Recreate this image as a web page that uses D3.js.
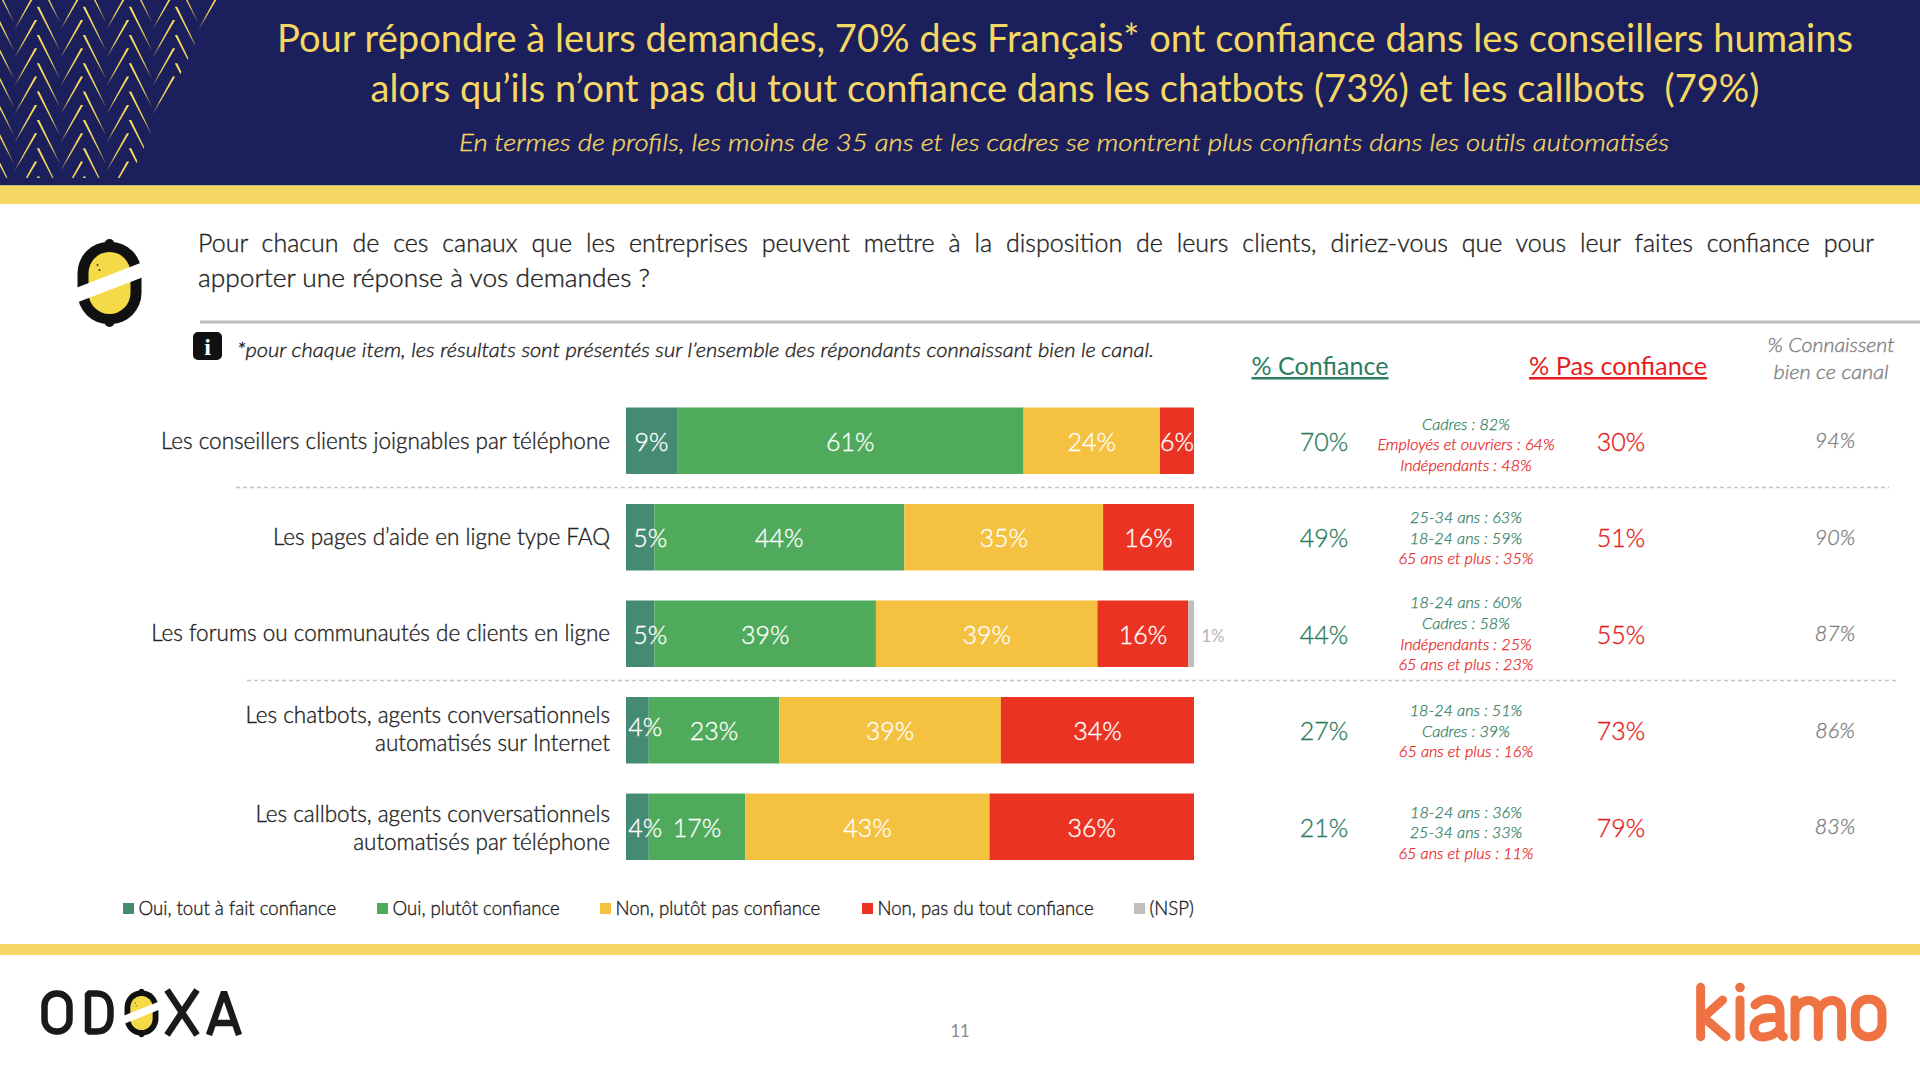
<!DOCTYPE html>
<html lang="fr">
<head>
<meta charset="utf-8">
<title>Confiance dans les canaux</title>
<script src="https://cdn.jsdelivr.net/npm/d3@7/dist/d3.min.js"></script>
<style>
  html, body { margin: 0; padding: 0; background: #fff; overflow: hidden; }
  svg { display: block; }
  text { font-family: Lato, "Open Sans", sans-serif; }
</style>
</head>
<body>
<svg id="slide" width="1920" height="1076"></svg>
<script>
// Chart values
const categories = [
  ["Les conseillers clients joignables par téléphone"],
  ["Les pages d’aide en ligne type FAQ"],
  ["Les forums ou communautés de clients en ligne"],
  ["Les chatbots, agents conversationnels", "automatisés sur Internet"],
  ["Les callbots, agents conversationnels", "automatisés par téléphone"]
];
const seriesNames = ["Oui, tout à fait confiance", "Oui, plutôt confiance", "Non, plutôt pas confiance", "Non, pas du tout confiance", "(NSP)"];
const seriesColors = ["#458a73", "#4fab5b", "#f4c140", "#eb3323", "#bfbfbf"];
const toutAFait = [9, 5, 5, 4, 4];
const plutot = [61, 44, 39, 23, 17];
const plutotPas = [24, 35, 39, 39, 43];
const pasDuTout = [6, 16, 16, 34, 36];
const nsp = [0, 0, 1, 0, 0];
const confiance = [70, 49, 44, 27, 21];
const pasConfiance = [30, 51, 55, 73, 79];
const connaissent = [94, 90, 87, 86, 83];
// profile notes, g = green (above average), r = red (below average)
const notes = [
  [["g", "Cadres : 82%"], ["r", "Employés et ouvriers : 64%"], ["r", "Indépendants : 48%"]],
  [["g", "25-34 ans : 63%"], ["g", "18-24 ans : 59%"], ["r", "65 ans et plus : 35%"]],
  [["g", "18-24 ans : 60%"], ["g", "Cadres : 58%"], ["r", "Indépendants : 25%"], ["r", "65 ans et plus : 23%"]],
  [["g", "18-24 ans : 51%"], ["g", "Cadres : 39%"], ["r", "65 ans et plus : 16%"]],
  [["g", "18-24 ans : 36%"], ["g", "25-34 ans : 33%"], ["r", "65 ans et plus : 11%"]]
];

const navy = "#1b1f5b", gold = "#f5d864", green = "#2e7d62", red = "#e81c1c", grey = "#7f7f7f";
const svg = d3.select("#slide");

// small helper for all the plain text on the slide
function label(parent, x, y, str, size, fill, anchor, italic, fitWidth) {
  const t = parent.append("text")
    .attr("x", x).attr("y", y)
    .attr("font-size", size)
    .attr("fill", fill)
    .attr("text-anchor", anchor || "start")
    .text(str);
  if (italic) t.attr("font-style", "italic");
  if (fitWidth) t.attr("textLength", fitWidth).attr("lengthAdjust", "spacingAndGlyphs");
  return t;
}

// Lato Light is too thin and Regular too heavy, a hairline stroke lands in between
function semi(t, amount) {
  return t.attr("font-weight", 300).attr("stroke", t.attr("fill")).attr("stroke-width", amount || 0.35);
}

/* ---- Header ---- */
svg.append("rect").attr("width", 1920).attr("height", 185.5).attr("fill", navy);
svg.append("rect").attr("y", 185.5).attr("width", 1920).attr("height", 18.5).attr("fill", gold);

// herringbone decoration: thin strokes that fade out towards the bottom
const fade = svg.append("defs").append("linearGradient").attr("id", "chevronFade")
  .attr("x1", 0).attr("x2", 0).attr("y1", 0).attr("y2", 1);
fade.append("stop").attr("offset", 0).attr("stop-color", "#fbe05f");
fade.append("stop").attr("offset", 0.65).attr("stop-color", "#eccd5b");
fade.append("stop").attr("offset", 1).attr("stop-color", "#3a3a5c");
svg.append("clipPath").attr("id", "chevronClip")
  .append("polygon").attr("points", "0,0 217,0 129,178 0,178");
const chevrons = svg.append("g").attr("clip-path", "url(#chevronClip)").attr("fill", "url(#chevronFade)");
const edgeAt = yy => 217 - 88 * yy / 178;
for (let k = -1; k < 5; k++) {
  for (let j = -1; j < 7; j++) {
    const tipX = 37 + 46 * k;
    const riseY = 20 + 28.3 * j, fallY = 6.7 + 28.3 * j;
    if (tipX - 1 < edgeAt(riseY)) {
      chevrons.append("polygon").attr("points",
        `${tipX - 2.2},${riseY} ${tipX + 0.2},${riseY} ${tipX - 21.6},${riseY + 37} ${tipX - 22.4},${riseY + 37}`);
    }
    if (tipX + 1 < edgeAt(fallY)) {
      chevrons.append("polygon").attr("points",
        `${tipX - 0.2},${fallY} ${tipX + 2.2},${fallY} ${tipX + 22.9},${fallY + 43} ${tipX + 22.1},${fallY + 43}`);
    }
  }
}

label(svg, 1065, 52, "Pour répondre à leurs demandes, 70% des Français* ont confiance dans les conseillers humains", 39, gold, "middle", false, 1576);
label(svg, 1065, 102, "alors qu’ils n’ont pas du tout confiance dans les chatbots (73%) et les callbots  (79%)", 39, gold, "middle", false, 1389).style("white-space", "pre");
semi(label(svg, 1064, 151, "En termes de profils, les moins de 35 ans et les cadres se montrent plus confiants dans les outils automatisés", 24, gold, "middle", true, 1210));

/* ---- Odoxa lemon icon, also reused in the footer logo ---- */
function lemon(parent, cx, cy, sx, sy) {
  const g = parent.append("g").attr("transform", `translate(${cx},${cy}) scale(${sx},${sy})`);
  g.append("rect").attr("x", -5).attr("y", -44).attr("width", 10).attr("height", 88).attr("rx", 5).attr("fill", "#111");
  g.append("rect").attr("x", -32).attr("y", -41).attr("width", 64).attr("height", 82).attr("rx", 31).attr("fill", "#111");
  g.append("rect").attr("x", -21).attr("y", -31).attr("width", 42).attr("height", 62).attr("rx", 21).attr("fill", "#f5da48");
  g.append("rect").attr("x", -36).attr("y", -7.5).attr("width", 72).attr("height", 14).attr("fill", "#fff").attr("transform", "rotate(-21)");
  g.append("circle").attr("cx", -12).attr("cy", -18).attr("r", 1).attr("fill", "#333");
  g.append("circle").attr("cx", -10).attr("cy", -13).attr("r", 1).attr("fill", "#333");
}
lemon(svg, 109.5, 283, 1, 1);

/* ---- Question ---- */
const q1 = semi(label(svg, 198, 252, "Pour chacun de ces canaux que les entreprises peuvent mettre à la disposition de leurs clients, diriez-vous que vous leur faites confiance pour", 25, "#222"));
// the first line is justified in the original
const q1Words = q1.text().split(" ").length - 1;
q1.attr("word-spacing", (1676 - q1.node().getComputedTextLength()) / q1Words);
semi(label(svg, 198, 287, "apporter une réponse à vos demandes ?", 25, "#222", "start", false, 452));
svg.append("line").attr("x1", 200).attr("x2", 1920).attr("y1", 322).attr("y2", 322).attr("stroke", "#bfbfbf").attr("stroke-width", 3);

// info badge
svg.append("rect").attr("x", 193).attr("y", 332).attr("width", 29).attr("height", 28).attr("rx", 5).attr("fill", "#111");
svg.append("text").attr("x", 207.5).attr("y", 355).attr("text-anchor", "middle").attr("font-size", 24)
  .attr("font-weight", 700).attr("fill", "#fff").style("font-family", "'Liberation Serif'").text("i");
semi(label(svg, 237, 357, "*pour chaque item, les résultats sont présentés sur l’ensemble des répondants connaissant bien le canal.", 19.5, "#222", "start", true, 917));

/* ---- Column headers ---- */
label(svg, 1320, 375, "% Confiance", 25, green, "middle", false, 137).attr("text-decoration", "underline");
label(svg, 1618, 375, "% Pas confiance", 25, red, "middle", false, 178).attr("text-decoration", "underline");
semi(label(svg, 1831, 352, "% Connaissent", 19.5, "#7f7f7f", "middle", true, 127));
semi(label(svg, 1831, 379, "bien ce canal", 19.5, "#7f7f7f", "middle", true, 115));

/* ---- Stacked bars ---- */
const rows = categories.map((c, i) => ({
  id: i, s0: toutAFait[i], s1: plutot[i], s2: plutotPas[i], s3: pasDuTout[i], s4: nsp[i]
}));
const keys = ["s0", "s1", "s2", "s3", "s4"];
const x = d3.scaleLinear().domain([0, 100]).range([626, 1194]);
const y = d3.scaleBand().domain(d3.range(categories.length)).range([407.5, 860]).paddingInner(0.311);
const rowMid = i => y(i) + y.bandwidth() / 2;
const stacked = d3.stack().keys(keys)(rows);

const layers = svg.append("g").selectAll("g").data(stacked).join("g")
  .attr("fill", (d, i) => seriesColors[i]);
layers.selectAll("rect").data(d => d.filter(p => p[1] > p[0])).join("rect")
  .attr("x", d => x(d[0]))
  .attr("y", d => y(d.data.id))
  .attr("width", d => x(d[1]) - x(d[0]))
  .attr("height", y.bandwidth());

// the narrow first segments have their label pushed right, as in the original
function firstNudge(v) { return v === 5 ? 10 : v === 4 ? 8 : 0; }

// value labels go in their own group so no later segment covers them
const barLabels = svg.append("g");
stacked.slice(0, 4).forEach((layer, k) => {
  barLabels.selectAll(null).data(layer).join("text")
    .attr("x", d => (x(d[0]) + x(d[1])) / 2 + (k === 0 ? firstNudge(d[1]) : 0))
    .attr("y", d => rowMid(d.data.id) + 10 + (k === 0 && d.data.id === 3 ? -4 : 0))
    .attr("text-anchor", "middle")
    .attr("font-size", 25)
    .attr("font-weight", 300)
    .attr("fill", "#fff")
    .attr("stroke", "#fff")
    .attr("stroke-width", 0.35)
    .text(d => (d[1] - d[0]) + "%");
});

// only the NSP value shows outside the bar, in small grey
rows.filter(r => r.s4 > 0).forEach(r => {
  label(svg, x(100) + 19, rowMid(r.id) + 8, r.s4 + "%", 16.5, "#b5b5b5", "middle");
});

/* ---- Category labels ---- */
const categoryShift = [1, 1, 0, 0, 2.5];
categories.forEach((lines, i) => {
  lines.forEach((line, n) => {
    const off = lines.length === 1 ? 0 : (n === 0 ? -14 : 14);
    semi(label(svg, 610, rowMid(i) + off + 7 + categoryShift[i], line, 22.5, "#222", "end"));
  });
});

/* ---- Right hand columns ---- */
const noteShift = [4, 1, 0, 1, 6];
categories.forEach((c, i) => {
  semi(label(svg, 1324, rowMid(i) + 10, confiance[i] + "%", 25, green, "middle"));
  semi(label(svg, 1621, rowMid(i) + 10, pasConfiance[i] + "%", 25, red, "middle"));
  semi(label(svg, 1835, rowMid(i) + 7.5, connaissent[i] + "%", 21.5, grey, "middle", true));
  const block = notes[i];
  block.forEach((n, j) => {
    const yy = rowMid(i) + noteShift[i] + (j - (block.length - 1) / 2) * 20.6 + 5.5;
    semi(label(svg, 1466, yy, n[1], 16.2, n[0] === "g" ? green : red, "middle", true), 0.25);
  });
});

/* ---- Dashed separators ---- */
const separators = svg.append("g").attr("stroke", "#c4c4c4").attr("stroke-width", 1.5).attr("stroke-dasharray", "4 3");
separators.append("line").attr("x1", 236).attr("x2", 1889)
  .attr("y1", (y(0) + y.bandwidth() + y(1)) / 2 - 1.5).attr("y2", (y(0) + y.bandwidth() + y(1)) / 2 - 1.5);
separators.append("line").attr("x1", 247).attr("x2", 1898)
  .attr("y1", (y(2) + y.bandwidth() + y(3)) / 2 - 1.5).attr("y2", (y(2) + y.bandwidth() + y(3)) / 2 - 1.5);

/* ---- Legend ---- */
const legendSwatchX = [123, 377, 600, 862, 1134];
seriesNames.forEach((name, i) => {
  svg.append("rect").attr("x", legendSwatchX[i]).attr("y", 903).attr("width", 11).attr("height", 11).attr("fill", seriesColors[i]);
  semi(label(svg, legendSwatchX[i] + 15.5, 915, name, 18.6, "#222"));
});

/* ---- Footer ---- */
svg.append("rect").attr("y", 944).attr("width", 1920).attr("height", 11).attr("fill", gold);
label(svg, 960, 1037, "11", 16.5, "#8a8a8a", "middle");

// ODOXA wordmark, drawn as strokes
const odoxa = svg.append("g").attr("fill", "none").attr("stroke", "#1a1a1a").attr("stroke-width", 6.5).attr("stroke-linejoin", "bevel");
odoxa.append("rect").attr("x", 44.5).attr("y", 993.5).attr("width", 25).attr("height", 38).attr("rx", 12);
odoxa.append("path").attr("d", "M88,993.5H97C107,993.5 110.5,1002 110.5,1010V1015C110.5,1024 107,1031.5 97,1031.5H88Z");
odoxa.append("path").attr("d", "M167,990L197,1035M197,990L167,1035");
odoxa.append("path").attr("d", "M209,1035L224,992L239,1035M214,1023H234");
lemon(svg, 141.5, 1013, 0.53, 0.55);

// kiamo wordmark, drawn as round strokes
const kiamo = svg.append("g")
  .attr("transform", "translate(1600,930) scale(0.3333)")
  .attr("fill", "none").attr("stroke", "#ef7243").attr("stroke-width", 27)
  .attr("stroke-linecap", "round").attr("stroke-linejoin", "round");
kiamo.append("path").attr("d", "M302,172V320M368,210L310,262L378,320");
kiamo.append("path").attr("d", "M420,210V320");
kiamo.append("path").attr("d", "M465,225C490,200 540,200 540,245V300C540,310 545,318 550,320M540,262C500,262 462,262 462,295C462,335 520,325 540,295");
kiamo.append("path").attr("d", "M585,210V320M585,245C600,200 655,200 655,245V320M655,245C670,200 725,200 725,245V320");
kiamo.append("rect").attr("x", 766).attr("y", 208).attr("width", 80).attr("height", 112).attr("rx", 38);
svg.append("circle").attr("cx", 1740).attr("cy", 987.5).attr("r", 4.8).attr("fill", "#ef7243");
</script>
</body>
</html>
